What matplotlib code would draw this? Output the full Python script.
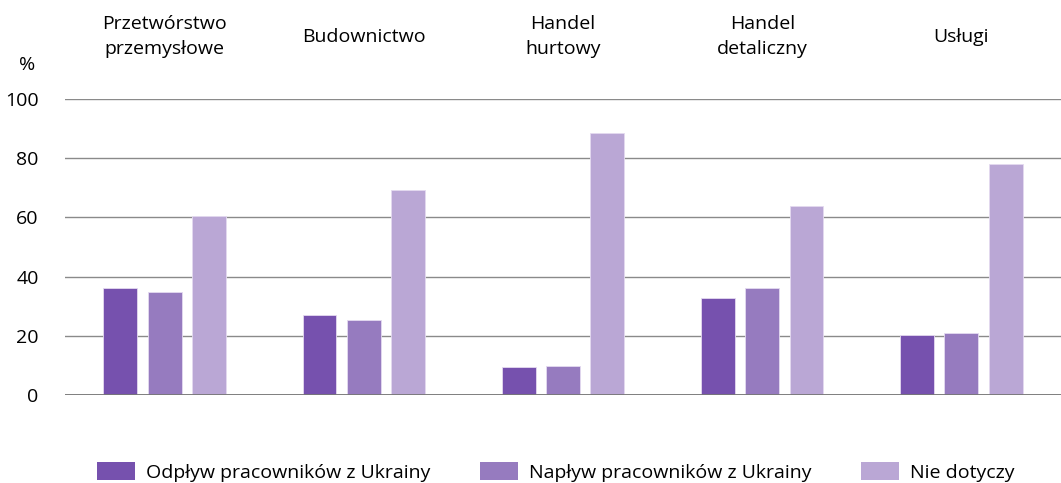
import matplotlib
matplotlib.use("Agg")
import matplotlib.pyplot as plt
import numpy as np
from matplotlib.patches import Patch

categories = ["Przetwórstwo\nprzemysłowe", "Budownictwo", "Handel\nhurtowy", "Handel\ndetaliczny", "Usługi"]
series_names = ["Odpływ pracowników z Ukrainy", "Napływ pracowników z Ukrainy", "Nie dotyczy"]
odplyw = [36.1, 27.0, 9.5, 32.8, 20.3]
naplyw = [34.8, 25.3, 9.8, 36.1, 20.9]
nie_dotyczy = [60.5, 69.3, 88.5, 63.9, 78.0]
yticks = [0, 20, 40, 60, 80, 100]
colors = ["#7651AE", "#967BBF", "#BAA7D5"]

plt.rcParams['font.family'] = ['Open Sans', 'DejaVu Sans']

fig = plt.figure(figsize=(10.61, 4.83), dpi=100)
W, H = 1061, 483
ax = fig.add_axes([65 / W, (H - 395) / H, (W - 65) / W, (395 - 99) / H])

x = np.arange(len(categories))
step = 0.2225
width = 0.17
for i, (vals, c) in enumerate(zip([odplyw, naplyw, nie_dotyczy], colors)):
    ax.bar(x + (i - 1) * step, vals, width, color=c, edgecolor="#E4DAF0", linewidth=0.6, zorder=3)

ax.set_xlim(-0.5, 4.5)
ax.set_ylim(0, 100)
ax.set_yticks(yticks)
ax.set_yticklabels([str(v) for v in yticks], fontsize=14)
ax.tick_params(axis='y', length=0, pad=19)
ax.set_xticks([])
for s in ax.spines.values():
    s.set_visible(False)
ax.grid(axis='y', color="#8a8a8a", linewidth=1.0, zorder=0)
ax.axhline(0, color="#777777", linewidth=1.3, zorder=4)

for xi, cat in zip(x, categories):
    ax.text(xi, 121, cat, ha='center', va='center', fontsize=14, linespacing=1.5,
            clip_on=False)

fig.text(27 / W, (H - 65) / H, "%", ha='center', va='center', fontsize=14)

handles = [Patch(facecolor=c, edgecolor='none') for c in colors]
fig.legend(handles, series_names, loc='center', bbox_to_anchor=(0.524, (H - 472) / H),
           ncol=3, frameon=False, fontsize=14, handlelength=1.95, handleheight=1.0,
           columnspacing=2.55, handletextpad=0.57)

fig.savefig("out.png", dpi=100)
